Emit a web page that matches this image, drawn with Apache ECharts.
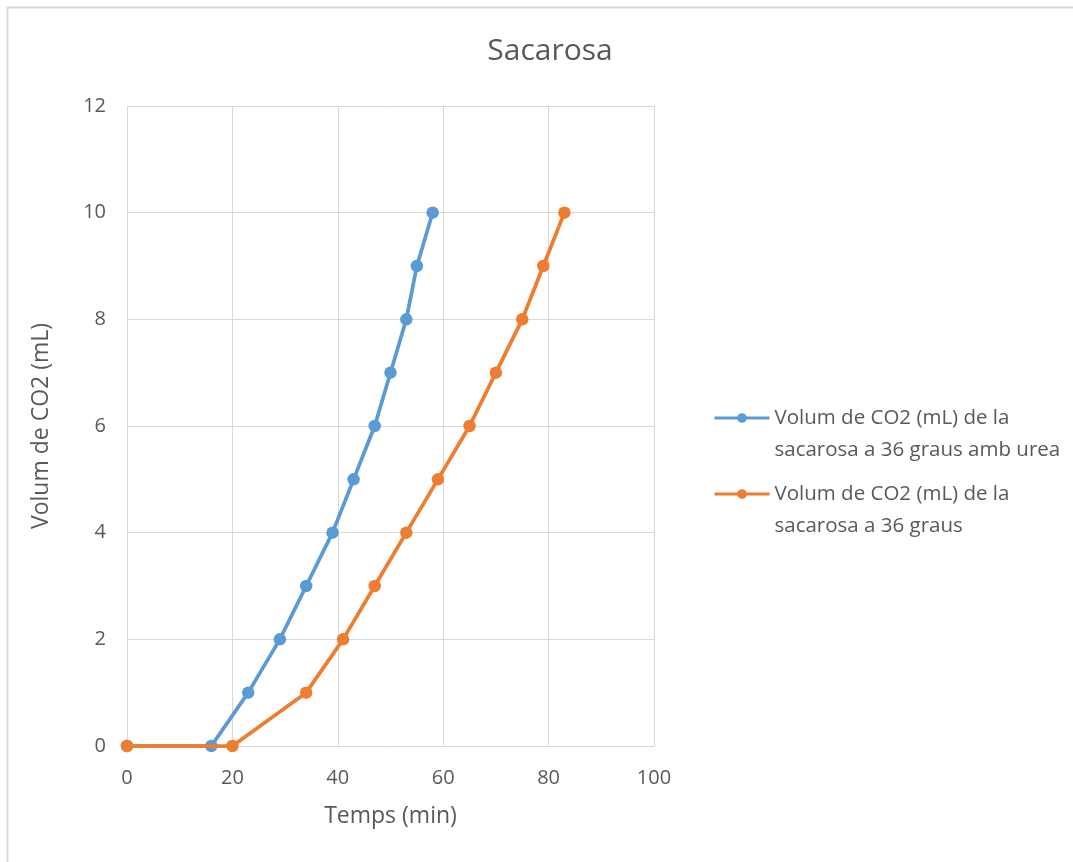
<!DOCTYPE html>
<html>
<head>
<meta charset="utf-8">
<script src="https://cdn.jsdelivr.net/npm/echarts@6/dist/echarts.min.js"></script>
<style>
  html, body { margin: 0; padding: 0; background: #fff; }
  #chart { width: 1073px; height: 862px; }
</style>
</head>
<body>
<div id="chart"></div>
<script>
// Temps (min) and volume of CO2 (mL) for each run
const ureaTime = [0, 16, 23, 29, 34, 39, 43, 47, 50, 53, 55, 58];
const ureaVolume = [0, 0, 1, 2, 3, 4, 5, 6, 7, 8, 9, 10];
const plainTime = [0, 20, 34, 41, 47, 53, 59, 65, 70, 75, 79, 83];
const plainVolume = [0, 0, 1, 2, 3, 4, 5, 6, 7, 8, 9, 10];

const seriesNames = [
  'Volum de CO2 (mL) de la sacarosa a 36 graus amb urea',
  'Volum de CO2 (mL) de la sacarosa a 36 graus'
];
const legendLines = [
  ['Volum de CO2 (mL) de la', 'sacarosa a 36 graus amb urea'],
  ['Volum de CO2 (mL) de la', 'sacarosa a 36 graus']
];

const FONT = 'Open Sans';
const TEXT = '#595959';
const GRID = '#d9d9d9';
const BLUE = '#5b9bd5';
const ORANGE = '#ed7d31';

const pairs = (xs, ys) => xs.map((x, i) => [x, ys[i]]);

const chart = echarts.init(document.getElementById('chart'), null, { renderer: 'canvas' });

// One legend block per series so each icon sits on the first line of its two-line label
function legendFor(idx, top) {
  return {
    data: [seriesNames[idx]],
    left: 713,
    top: top,
    orient: 'vertical',
    itemWidth: 55,
    itemHeight: 12,
    itemGap: 0,
    padding: 0,
    selectedMode: false,
    lineStyle: { width: 3 },
    formatter: () => '\n' + legendLines[idx].join('\n'),
    textStyle: {
      color: TEXT,
      fontFamily: FONT,
      fontSize: 20.5,
      lineHeight: 32
    }
  };
}

chart.setOption({
  animation: false,
  backgroundColor: '#fff',
  title: {
    text: 'Sacarosa',
    left: 545,
    top: 31,
    textAlign: 'center',
    textStyle: { color: TEXT, fontFamily: FONT, fontSize: 30, fontWeight: 'normal' }
  },
  graphic: [{
    type: 'rect',
    shape: { x: 7.5, y: 7.5, width: 1200, height: 1000 },
    style: { fill: null, stroke: '#d9d9d9', lineWidth: 2 },
    silent: true,
    z: -1
  }],
  legend: [legendFor(0, 370), legendFor(1, 446)],
  grid: { left: 127, right: 419, top: 106, bottom: 116, containLabel: false },
  xAxis: {
    type: 'value',
    min: 0, max: 100, interval: 20,
    name: 'Temps (min)',
    nameLocation: 'middle',
    nameGap: 59,
    nameTextStyle: { color: TEXT, fontFamily: FONT, fontSize: 23 },
    axisLine: { show: true, lineStyle: { color: GRID, width: 1 } },
    axisTick: { show: false },
    axisLabel: { color: TEXT, fontFamily: FONT, fontSize: 20, margin: 22 },
    splitLine: { show: true, lineStyle: { color: GRID, width: 1 } }
  },
  yAxis: {
    type: 'value',
    min: 0, max: 12, interval: 2,
    name: 'Volum de CO2 (mL)',
    nameLocation: 'middle',
    nameGap: 74,
    nameTextStyle: { color: TEXT, fontFamily: FONT, fontSize: 23 },
    axisLine: { show: false },
    axisTick: { show: false },
    axisLabel: { color: TEXT, fontFamily: FONT, fontSize: 20, margin: 21 },
    splitLine: { show: true, lineStyle: { color: GRID, width: 1 } }
  },
  series: [
    {
      name: seriesNames[0],
      type: 'line',
      data: pairs(ureaTime, ureaVolume),
      color: BLUE,
      symbol: 'circle',
      symbolSize: 12.5,
      lineStyle: { width: 3.75 },
      z: 2
    },
    {
      name: seriesNames[1],
      type: 'line',
      data: pairs(plainTime, plainVolume),
      color: ORANGE,
      symbol: 'circle',
      symbolSize: 12.5,
      lineStyle: { width: 3.75 },
      z: 3
    }
  ]
});
</script>
</body>
</html>
